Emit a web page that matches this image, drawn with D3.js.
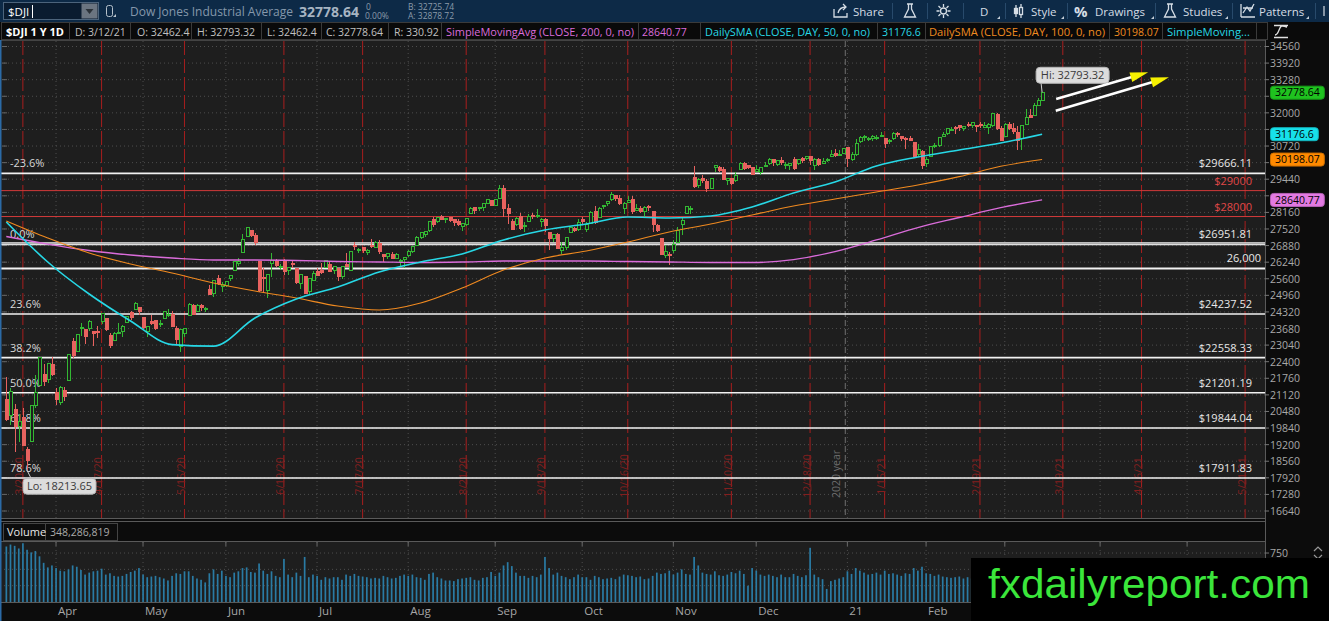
<!DOCTYPE html>
<html>
<head>
<meta charset="utf-8">
<script src="https://cdn.jsdelivr.net/npm/d3@7"></script>
<style>
html, body { margin: 0; padding: 0; background: #0c0c0c; overflow: hidden; }
svg { display: block; font-family: "Open Sans", "DejaVu Sans", sans-serif; }
</style>
</head>
<body>
<svg id="chart" width="1329" height="621"></svg>
<script>
// daily candles [open, high, low, close, volume in millions], one array per month
const mar20 = [
  [20960,21800,20100,20189,850],[20330,21390,19960,21237,880],[20560,20780,18920,19899,860],
  [19900,20400,19300,20087,820],[20250,20600,19140,19174,900],[19030,19100,18213.65,18592,800],
  [19320,20705,19300,20705,760],[20700,21900,20600,21201,780],[21470,22600,21450,22552,700],
  [21900,22300,21450,21637,600],[21700,22350,21580,22327,530],[22300,22600,21850,21917,560]];
const apr20 = [
  [21230,21400,20736,20944,520],[20820,21480,20740,21413,480],[21290,21440,20870,21053,470],
  [21690,22710,21660,22680,500],[23190,23330,22560,22654,560],[22800,23480,22760,23434,540],
  [23680,23890,23400,23719,490],[23660,23660,23090,23391,420],[23690,24020,23600,23950,450],
  [23560,23560,23000,23504,470],[23550,23760,23300,23538,480],[23950,24265,23860,24242,510],
  [24050,24050,23600,23650,420],[23400,23500,22940,23019,440],[23200,23560,23200,23476,400],
  [23500,23900,23450,23515,390],[23550,23800,23370,23775,400],[23900,24150,23900,24134,430],
  [24300,24370,24000,24102,460],[24420,24700,24400,24634,480],[24500,24500,24200,24346,520]];
const may20 = [
  [24120,24120,23650,23724,420],[23550,23750,23360,23750,380],[23960,24200,23800,23883,390],
  [23980,24020,23610,23665,400],[23830,23990,23740,23876,380],[24080,24360,24060,24331,360],
  [24220,24430,24140,24222,330],[24240,24350,23760,23765,400],[23690,23770,23050,23248,440],
  [23000,23650,22790,23625,430],[23500,23700,23360,23685,470],[24200,24650,24200,24597,470],
  [24560,24620,24200,24207,400],[24350,24630,24350,24576,360],[24560,24620,24350,24474,340],
  [24460,24500,24300,24465,300],[25200,25350,24980,24995,440],[25050,25560,24900,25548,500],
  [25600,25760,25350,25401,430],[25300,25460,25100,25383,480]];
const jun20 = [
  [25340,25520,25300,25475,400],[25600,25760,25500,25743,380],[25900,26280,25900,26270,450],
  [26200,26400,26090,26282,470],[26600,27340,26600,27111,520],[27230,27580,27200,27572,530],
  [27450,27500,27200,27272,460],[27250,27350,26900,26990,450],[26280,26280,25080,25128,590],
  [25660,26000,25080,25606,480],[25150,25800,24840,25763,430],[26200,26610,25650,26290,470],
  [26250,26350,26050,26120,400],[26050,26150,25930,26080,380],[26280,26350,25760,25871,660],
  [25900,26040,25740,26025,420],[26200,26300,26000,26156,380],[26000,26000,25400,25446,450],
  [25400,25750,25200,25746,400],[25700,25700,25000,25016,690],[25100,25600,25000,25596,380],
  [25550,25900,25520,25813,420]];
const jul20 = [
  [25880,26000,25700,25735,400],[25900,26200,25800,25827,340],[26050,26330,26000,26287,380],
  [26140,26240,25880,25890,360],[25900,26080,25800,26067,380],[26000,26000,25520,25706,380],
  [25700,26090,25600,26075,340],[26150,26600,26050,26086,420],[25900,26660,25900,26643,400],
  [26900,27000,26700,26870,430],[26700,26800,26600,26735,400],[26800,26800,26600,26672,390],
  [26600,26730,26500,26681,380],[26900,27150,26800,26840,360],[26800,27050,26800,27006,370],
  [26950,27100,26550,26652,360],[26550,26550,26250,26470,400],[26470,26600,26350,26585,380],
  [26550,26620,26360,26379,360],[26400,26600,26400,26540,370],[26300,26350,26100,26314,400],
  [26350,26430,26000,26428,420]];
const aug20 = [
  [26500,26700,26450,26664,400],[26640,26840,26580,26828,420],[26900,27250,26900,27202,380],
  [27200,27400,27150,27387,370],[27300,27450,27200,27433,340],[27450,27800,27400,27791,430],
  [27900,28000,27600,27687,450],[27800,28000,27750,27977,380],[28000,28050,27850,27897,360],
  [27900,27950,27750,27931,330],[27950,28000,27800,27845,330],[27900,27900,27650,27778,320],
  [27800,27900,27650,27693,350],[27600,27750,27450,27740,360],[27700,27960,27650,27930,370],
  [28100,28350,28100,28308,380],[28350,28350,28100,28248,340],[28300,28350,28200,28332,330],
  [28350,28500,28200,28492,370],[28500,28660,28480,28654,380],[28600,28650,28400,28430,460]];
const sep20 = [
  [28440,28660,28400,28646,400],[28700,29200,28700,29101,450],[29100,29200,28000,28293,560],
  [28300,28500,27700,28133,610],[27800,27900,27500,27501,550],[27700,28000,27650,27940,450],
  [28000,28150,27500,27535,400],[27600,27800,27400,27666,400],[27800,28100,27800,27993,370],
  [28050,28150,27900,27996,400],[28000,28300,27950,28032,380],[27800,27950,27600,27902,420],
  [27900,27950,27400,27657,690],[27400,27400,26700,27148,520],[27150,27300,27000,27288,420],
  [27300,27350,26750,26763,450],[26700,27000,26550,26815,400],[26800,27200,26700,27174,380],
  [27400,27600,27350,27584,350],[27550,27600,27400,27453,380],[27500,27900,27450,27782,420]];
const oct20 = [
  [27900,28000,27700,27817,380],[27500,27800,27400,27683,380],[27750,28200,27700,28149,340],
  [28200,28400,27700,27773,400],[27950,28350,27950,28303,380],[28400,28450,28300,28426,350],
  [28500,28600,28400,28587,360],[28650,28950,28600,28838,370],[28800,28800,28600,28680,350],
  [28700,28850,28450,28514,390],[28300,28550,28100,28494,420],[28550,28800,28550,28606,410],
  [28650,28800,28100,28195,400],[28250,28500,28250,28309,380],[28300,28400,28150,28211,390],
  [28200,28400,28000,28364,350],[28400,28450,28200,28336,360],[28200,28200,27400,27685,400],
  [27650,27700,27400,27463,450],[27150,27150,26500,26520,430],[26500,26900,26400,26659,440],
  [26550,26650,26140,26502,480]];
const nov20 = [
  [26700,27100,26600,26925,420],[27000,27600,27000,27480,450],[27700,28000,27300,27848,500],
  [28100,28400,28100,28390,430],[28300,28400,28100,28323,420],[29500,29933,29100,29158,690],
  [29200,29500,29100,29421,560],[29450,29600,29300,29398,450],[29350,29450,28950,29080,430],
  [29100,29500,29100,29480,420],[29900,30000,29700,29950,470],[29900,29950,29700,29783,410],
  [29800,29900,29400,29438,400],[29400,29500,29200,29483,420],[29450,29500,29200,29263,460],
  [29400,29700,29350,29591,440],[29800,30100,29800,30046,480],[30050,30100,29800,29872,430],
  [29950,30000,29850,29910,250],[29900,29900,29600,29639,520]];
const dec20 = [
  [29750,30000,29700,29824,480],[29700,29900,29600,29884,420],[29950,30100,29900,29970,400],
  [30050,30250,30000,30218,420],[30200,30200,29950,30070,400],[30000,30200,29950,30174,380],
  [30150,30300,30000,30069,420],[29950,30100,29850,29999,380],[29950,30050,29800,30046,380],
  [30200,30300,29800,29862,430],[30050,30200,30000,30199,400],[30250,30300,30050,30155,380],
  [30250,30350,30200,30303,410],[30300,30300,30000,30179,830],[29950,30250,29800,30216,420],
  [30200,30250,29950,30016,380],[30050,30250,30050,30130,350],[30150,30250,30100,30200,200],
  [30300,30550,30300,30404,320],[30450,30600,30300,30336,340],[30400,30550,30350,30410,360],
  [30450,30650,30400,30606,380]];
const jan21 = [
  [30650,30700,29900,30224,470],[30200,30500,30150,30392,430],[30400,31000,30350,30829,520],
  [30900,31100,30850,31041,480],[31050,31150,30900,31098,450],[31000,31050,30900,31009,420],
  [31000,31150,30900,31069,430],[31050,31150,30950,31060,450],[31100,31250,31050,31113,420],
  [31000,31000,30650,30814,480],[30900,31000,30800,30931,430],[31000,31250,30950,31188,440],
  [31200,31250,31050,31176,420],[31100,31100,30900,30997,400],[31000,31050,30600,30960,440],
  [31000,31100,30900,30937,430],[30850,30850,30250,30303,520],[30400,30800,30350,30603,480],
  [30500,30550,29850,29983,540]];
const feb21 = [
  [30050,30300,29900,30212,440],[30300,30700,30300,30687,430],[30700,30850,30650,30724,400],
  [30750,31060,30700,31056,420],[31100,31250,31050,31148,390],[31200,31400,31150,31386,380],
  [31350,31450,31300,31376,370],[31450,31500,31200,31438,380],[31500,31550,31300,31431,390],
  [31400,31500,31300,31458,360],[31550,31650,31450,31523,380],[31500,31650,31400,31613,360],
  [31500,31550,31250,31493,400],[31550,31650,31400,31494,390],[31450,31650,31400,31522,430],
  [31450,31600,31200,31537,420],[31500,32000,31450,31962,470],[31950,32000,31350,31402,520],
  [31400,31500,30900,30932,500]];
const mar21 = [
  [31100,31600,31100,31536,450],[31550,31650,31350,31392,400],[31400,31600,31200,31270,450],
  [31250,31500,30550,30924,500],[31000,31550,30550,31496,520],[31550,32150,31550,31802,460],
  [31900,32150,31800,31833,430],[31900,32390,31900,32297,420],[32300,32570,32300,32486,410],
  [32462.4,32793.32,32462.4,32778.64,348.3]];

// moving averages, one value every 10 bars
const smaStep = 10;
const sma50  = [27789,26246,25011,23970,23060,23000,24086,24819,25282,25860,26246,26555,27095,
                27481,27712,27982,27944,28021,28368,28908,29332,29950,30297,30567,30837,31177];
const sma100 = [27828,27172,26593,26169,25822,25436,25127,24857,24548,24394,24664,25243,25937,
                26400,26670,27018,27403,27712,28059,28406,28677,28947,29217,29540,29937,30198];
const sma200 = [27230,26940,26690,26516,26400,26323,26323,26304,26265,26246,26227,26246,26285,
                26285,26285,26265,26246,26227,26227,26340,26650,27095,27577,27963,28341,28641];

// price levels drawn on the chart
const fibPrices = [29666.11, 26951.81, 24237.52, 22558.33, 21201.19, 19844.04, 17911.83];
const fibPct    = ["-23.6%", "0.0%", "23.6%", "38.2%", "50.0%", "61.8%", "78.6%"];
const redPrices = [29000, 28000];
const plainPrice = 26000;

// monthly expiration dates (red lines)
const opexDates = ["2020-03-20","2020-04-17","2020-05-15","2020-06-19","2020-07-17","2020-08-21",
  "2020-09-18","2020-10-16","2020-11-20","2020-12-18","2021-01-15","2021-02-19","2021-03-19",
  "2021-04-16","2021-05-21"];
const holidays = ["2020-04-10","2020-05-25","2020-07-03","2020-09-07","2020-11-26","2020-12-25",
  "2021-01-01","2021-01-18","2021-02-15","2021-04-02","2021-05-31"];

const lastValues = [
  {v: 32778.64, bg: "#1fc21f"},
  {v: 31176.6,  bg: "#17e0ea"},
  {v: 30198.07, bg: "#ff8a00"},
  {v: 28640.77, bg: "#e27ae2"}];

// arrows: [bar index, price] start and tip
const arrows = [
  {from: [253.4, 32535], to: [275.6, 33565]},
  {from: [253.3, 32083], to: [280.6, 33372]}];

const legendTexts = ["$DJI 1 Y 1D","D: 3/12/21","O: 32462.4","H: 32793.32","L: 32462.4","C: 32778.64",
  "R: 330.92","SimpleMovingAvg (CLOSE, 200, 0, no)","28640.77","DailySMA (CLOSE, DAY, 50, 0, no)",
  "31176.6","DailySMA (CLOSE, DAY, 100, 0, no)","30198.07","SimpleMoving..."];

const W = 1329, H = 621, plotR = 1265;
const wmX = 971, wmY = 558; // watermark box corner
const upCol = "#33b833", dnCol = "#e8625f", bgCol = "#1e1e1e";
const cyan = "#27d8e6", orange = "#f08a20", magenta = "#da6cda";
const fmt = d3.utcFormat("%Y-%m-%d");

// trading days from 3/16/20
const days = [];
for (let d = new Date(Date.UTC(2020, 2, 16)); days.length < 310; d = new Date(d.getTime() + 86400000)) {
  const wd = d.getUTCDay();
  if (wd === 0 || wd === 6 || holidays.includes(fmt(d))) continue;
  days.push(d);
}
const dayIndex = s => days.findIndex(d => fmt(d) === s);

const bars = [mar20, apr20, may20, jun20, jul20, aug20, sep20, oct20, nov20, dec20, jan21, feb21, mar21]
  .flat().map((r, i) => ({i: i, o: r[0], h: r[1], l: r[2], c: r[3], v: r[4]}));

const x = d3.scaleLinear().domain([-1.52, 303.8]).range([0, plotR]);
const y = d3.scaleLinear().domain([16640, 34560]).range([511, 46.5]);
const yv = d3.scaleLinear().domain([0, 873]).range([602, 545]);

const svg = d3.select("#chart");
svg.append("rect").attr("width", W).attr("height", H).attr("fill", "#0c0c0c");

// panes
svg.append("rect").attr("x", 0).attr("y", 40).attr("width", plotR).attr("height", 478).attr("fill", bgCol);
svg.append("rect").attr("x", 0).attr("y", 541).attr("width", plotR).attr("height", 61).attr("fill", bgCol);

const grid = svg.append("g").attr("stroke", "#4d4d4d").attr("stroke-dasharray", "1,3");
const yTicks = d3.range(16640, 34561, 640);
grid.selectAll("line.h").data(yTicks).join("line")
  .attr("x1", 0).attr("x2", plotR).attr("y1", d => y(d)).attr("y2", d => y(d));
grid.selectAll("line.hv").data([250, 500, 750]).join("line")
  .attr("x1", 0).attr("x2", plotR).attr("y1", d => yv(d)).attr("y2", d => yv(d));

const monthStarts = days.map((d, i) => ({d: d, i: i}))
  .filter(m => m.i > 0 && m.i < 304 && m.d.getUTCMonth() !== days[m.i - 1].getUTCMonth());
grid.selectAll("line.vm").data(monthStarts).join("line")
  .attr("x1", m => x(m.i)).attr("x2", m => x(m.i)).attr("y1", 41).attr("y2", 518);
grid.selectAll("line.vv").data(monthStarts).join("line")
  .attr("x1", m => x(m.i)).attr("x2", m => x(m.i)).attr("y1", 542).attr("y2", 602);
svg.append("g").attr("stroke", "#6a6a6a").selectAll("line").data(monthStarts).join("line")
  .attr("x1", m => x(m.i)).attr("x2", m => x(m.i)).attr("y1", 541).attr("y2", 546);
svg.append("g").attr("stroke", "#666").selectAll("line").data(yTicks).join("line")
  .attr("x1", 2).attr("x2", 7).attr("y1", d => y(d)).attr("y2", d => y(d));

// expiration lines
const opex = opexDates.map(s => ({s: s, i: dayIndex(s)}));
svg.append("g").attr("stroke", "#a81e1e").attr("stroke-dasharray", "14,4")
  .selectAll("line").data(opex).join("line")
  .attr("x1", d => x(d.i)).attr("x2", d => x(d.i)).attr("y1", 41).attr("y2", 518);
const dateLbl = d3.utcFormat("%-m/%-d/%y");
svg.append("g").selectAll("text").data(opex).join("text")
  .attr("transform", d => `translate(${x(d.i) + 0.5},476) rotate(-90)`)
  .attr("text-anchor", "middle").attr("font-size", 10.5).attr("fill", "#821f1f")
  .text(d => dateLbl(new Date(d.s + "T00:00:00Z")));

// year line
const yearIdx = monthStarts.find(m => m.d.getUTCMonth() === 0).i;
svg.append("line").attr("x1", x(yearIdx - 0.5)).attr("x2", x(yearIdx - 0.5)).attr("y1", 41).attr("y2", 518)
  .attr("stroke", "#707070").attr("stroke-dasharray", "6,3");
svg.append("text").attr("transform", `translate(${x(yearIdx - 0.5) - 5},474) rotate(-90)`)
  .attr("text-anchor", "middle").attr("font-size", 10.5).attr("fill", "#6c6c6c").text("2020 year");

// horizontal levels
const lv = svg.append("g");
lv.selectAll("line.fib").data(fibPrices).join("line")
  .attr("x1", 0).attr("x2", plotR).attr("y1", d => y(d)).attr("y2", d => y(d))
  .attr("stroke", "#f2f2f2").attr("stroke-width", (d, k) => k === 1 ? 3 : 1.6);
lv.append("line").attr("x1", 0).attr("x2", plotR).attr("y1", y(fibPrices[1])).attr("y2", y(fibPrices[1]))
  .attr("stroke", "#9a9a9a").attr("stroke-width", 1);
lv.append("line").attr("x1", 0).attr("x2", plotR).attr("y1", y(plainPrice)).attr("y2", y(plainPrice))
  .attr("stroke", "#f2f2f2").attr("stroke-width", 2);
lv.selectAll("line.red").data(redPrices).join("line")
  .attr("x1", 0).attr("x2", plotR).attr("y1", d => y(d)).attr("y2", d => y(d))
  .attr("stroke", "#d23a3a").attr("stroke-width", 1);

const lt = svg.append("g").attr("font-size", 11);
lt.selectAll("text.pct").data(fibPrices).join("text")
  .attr("x", 10).attr("y", d => y(d) - 6).attr("fill", "#d8d8d8").text((d, k) => fibPct[k]);
lt.selectAll("text.fv").data(fibPrices).join("text")
  .attr("x", 1252).attr("y", d => y(d) - 6).attr("text-anchor", "end").attr("fill", "#e8e8e8")
  .text(d => "$" + d3.format(".2f")(d));
lt.selectAll("text.rv").data(redPrices).join("text")
  .attr("x", 1252).attr("y", d => y(d) - 6).attr("text-anchor", "end").attr("fill", "#e04848")
  .text(d => "$" + d);
lt.append("text").attr("x", 1261).attr("y", y(plainPrice) - 6).attr("text-anchor", "end")
  .attr("fill", "#e8e8e8").text(d3.format(",")(plainPrice));

// candles
const cg = svg.append("g").attr("shape-rendering", "crispEdges");
cg.selectAll("line").data(bars).join("line")
  .attr("x1", d => Math.round(x(d.i)) + 0.5).attr("x2", d => Math.round(x(d.i)) + 0.5)
  .attr("y1", d => y(d.h)).attr("y2", d => y(d.l))
  .attr("stroke", d => d.c >= d.o ? upCol : dnCol);
cg.selectAll("rect").data(bars).join("rect")
  .attr("x", d => Math.round(x(d.i)) - 1)
  .attr("y", d => y(Math.max(d.o, d.c)))
  .attr("width", 3)
  .attr("height", d => Math.max(1, Math.abs(y(d.o) - y(d.c))))
  .attr("fill", d => d.c >= d.o ? bgCol : dnCol)
  .attr("stroke", d => d.c >= d.o ? upCol : dnCol).attr("stroke-width", 1);

// moving averages
const smaLine = d3.line().x((d, k) => x(k * smaStep)).y(d => y(d)).curve(d3.curveMonotoneX);
svg.append("path").attr("d", smaLine(sma200)).attr("fill", "none").attr("stroke", magenta).attr("stroke-width", 1.3);
svg.append("path").attr("d", smaLine(sma100)).attr("fill", "none").attr("stroke", orange).attr("stroke-width", 1.1);
svg.append("path").attr("d", smaLine(sma50)).attr("fill", "none").attr("stroke", cyan).attr("stroke-width", 1.6);

// hi / lo bubbles
const hiBar = bars.reduce((a, b) => b.h > a.h ? b : a);
const loBar = bars.reduce((a, b) => b.l < a.l ? b : a);
function bubble(bx, by, dx, dy, label, px, py) {
  const g = svg.append("g");
  g.append("line").attr("x1", bx).attr("y1", by).attr("x2", px).attr("y2", py).attr("stroke", "#cfcfcf");
  g.append("rect").attr("x", bx + dx).attr("y", by + dy).attr("width", 73).attr("height", 16).attr("rx", 4)
    .attr("fill", "#dcdcdc").attr("stroke", "#b5b5b5");
  g.append("text").attr("x", bx + dx + 36.5).attr("y", by + dy + 12).attr("text-anchor", "middle")
    .attr("font-size", 11).attr("fill", "#3a3a3a").text(label);
}
bubble(x(hiBar.i), y(hiBar.h), -6, -25, "Hi: " + d3.format(".2f")(hiBar.h), x(hiBar.i) - 1, y(hiBar.h) - 9);
bubble(x(loBar.i), y(loBar.l), -4, 8, "Lo: " + d3.format(".2f")(loBar.l), x(loBar.i) + 4, y(loBar.l) + 8);

// arrows
arrows.forEach(a => {
  const x0 = x(a.from[0]), y0 = y(a.from[1]), x1 = x(a.to[0]), y1 = y(a.to[1]);
  const len = Math.hypot(x1 - x0, y1 - y0), ux = (x1 - x0) / len, uy = (y1 - y0) / len;
  const bxp = x1 - ux * 18, byp = y1 - uy * 18;
  svg.append("line").attr("x1", x0).attr("y1", y0).attr("x2", bxp + ux * 2).attr("y2", byp + uy * 2)
    .attr("stroke", "#ffffff").attr("stroke-width", 2.6);
  svg.append("path").attr("fill", "#f5f000")
    .attr("d", `M${x1},${y1}L${bxp - uy * 5},${byp + ux * 5}L${bxp + uy * 5},${byp - ux * 5}Z`);
});

// volume
svg.append("g").attr("fill", "#2a7ba4").selectAll("rect").data(bars).join("rect")
  .attr("x", d => x(d.i) - 0.8).attr("width", 1.7)
  .attr("y", d => yv(d.v)).attr("height", d => yv(0) - yv(d.v));

// pane borders
svg.append("line").attr("x1", 0).attr("x2", plotR).attr("y1", 40.5).attr("y2", 40.5).attr("stroke", "#444");
svg.append("line").attr("x1", 0).attr("x2", plotR).attr("y1", 518.5).attr("y2", 518.5).attr("stroke", "#5a5a5a");
svg.append("line").attr("x1", 0).attr("x2", plotR).attr("y1", 521.5).attr("y2", 521.5).attr("stroke", "#5a5a5a");
svg.append("line").attr("x1", 0).attr("x2", plotR).attr("y1", 541.5).attr("y2", 541.5).attr("stroke", "#5a5a5a");
svg.append("line").attr("x1", 0).attr("x2", plotR).attr("y1", 602.5).attr("y2", 602.5).attr("stroke", "#5a5a5a");
svg.append("line").attr("x1", plotR + 0.5).attr("x2", plotR + 0.5).attr("y1", 40).attr("y2", 603).attr("stroke", "#5a5a5a");

// volume label row
svg.append("rect").attr("x", 3.5).attr("y", 523.5).attr("width", 42).attr("height", 17).attr("fill", "none").attr("stroke", "#444");
svg.append("rect").attr("x", 45.5).attr("y", 523.5).attr("width", 72).attr("height", 17).attr("fill", "none").attr("stroke", "#444");
svg.append("text").attr("x", 7).attr("y", 536).attr("font-size", 11).attr("fill", "#e8e8e8").text("Volume");
svg.append("text").attr("x", 50).attr("y", 536).attr("font-size", 10.5).attr("fill", "#aaaaaa")
  .text(d3.format(",")(348286819));

// right axis (labels hidden behind the last-value tags are left out)
const axisLabels = yTicks.filter(t => !lastValues.some(l => Math.abs(y(t) - y(l.v)) < 9));
const ax = svg.append("g").attr("font-size", 10.5).attr("fill", "#a8a8a8");
ax.selectAll("line").data(yTicks).join("line")
  .attr("x1", plotR).attr("x2", plotR + 4).attr("y1", d => y(d)).attr("y2", d => y(d)).attr("stroke", "#777");
ax.selectAll("text").data(axisLabels).join("text")
  .attr("x", 1270).attr("y", d => y(d)).attr("dy", "0.38em").text(d => d);
ax.append("line").attr("x1", plotR).attr("x2", plotR + 4).attr("y1", yv(750)).attr("y2", yv(750)).attr("stroke", "#777");
ax.append("text").attr("x", 1270).attr("y", yv(750)).attr("dy", "0.38em").text(750);
svg.append("path").attr("d", "M1314,551l4,-4l4,4M1314,555l4,4l4,-4").attr("fill", "none").attr("stroke", "#999").attr("stroke-width", 1.2);

lastValues.forEach(t => {
  const g = svg.append("g");
  const txt = g.append("text").attr("x", 1275).attr("y", y(t.v)).attr("dy", "0.35em")
    .attr("font-size", 10.5).attr("fill", "#000").text(t.v);
  const w = txt.node().getComputedTextLength();
  g.insert("rect", "text").attr("x", 1270.5).attr("y", y(t.v) - 6.5).attr("width", w + 9).attr("height", 13)
    .attr("rx", 3).attr("fill", t.bg).attr("stroke", d3.color(t.bg).darker(0.6));
});

// month labels (those under the watermark box are not visible)
svg.append("g").attr("font-size", 11.5).attr("fill", "#a6a6a6")
  .selectAll("text").data(monthStarts.filter(m => x(m.i) + 24 < wmX)).join("text")
  .attr("x", m => x(m.i) + 2).attr("y", 615)
  .text(m => m.d.getUTCMonth() === 0 ? d3.utcFormat("%y")(m.d) : d3.utcFormat("%b")(m.d));

// left frame
svg.append("rect").attr("x", 0).attr("y", 40).attr("width", 1.5).attr("height", 581).attr("fill", "#2b6aa6");

// ---- top tool bar ----
const tb = svg.append("g");
tb.append("rect").attr("width", W).attr("height", 22).attr("fill", "#0d2a47");
tb.append("rect").attr("x", 3.5).attr("y", 2.5).attr("width", 95).attr("height", 17).attr("fill", "#0a1c30").attr("stroke", "#4c647c");
tb.append("text").attr("x", 8).attr("y", 15.5).attr("font-size", 11.5).attr("fill", "#ffffff").text("$DJI");
tb.append("line").attr("x1", 32.5).attr("x2", 32.5).attr("y1", 5).attr("y2", 18).attr("stroke", "#fff");
tb.append("rect").attr("x", 81.5).attr("y", 3.5).attr("width", 16).attr("height", 15).attr("fill", "#6b7581");
tb.append("path").attr("d", "M85.5,9h8l-4,5z").attr("fill", "#2c333a");
tb.append("rect").attr("x", 106.5).attr("y", 5.5).attr("width", 6).attr("height", 11).attr("rx", 2).attr("fill", "none").attr("stroke", "#b7c2cc");
tb.append("path").attr("d", "M113,17l3,0l0,-3z").attr("fill", "#b7c2cc");
tb.append("text").attr("x", 130).attr("y", 15.5).attr("font-size", 12).attr("fill", "#8598ab").text("Dow Jones Industrial Average");
tb.append("text").attr("x", 299).attr("y", 16.5).attr("font-size", 14).attr("font-weight", "bold").attr("fill", "#a6b4c2").text("32778.64");
tb.append("text").attr("x", 366).attr("y", 9.5).attr("font-size", 8.5).attr("fill", "#8b9bab").text("0");
tb.append("text").attr("x", 365).attr("y", 19).attr("font-size", 8.5).attr("fill", "#8b9bab").text("0.00%");
tb.append("text").attr("x", 408).attr("y", 9.5).attr("font-size", 8.5).attr("fill", "#8b9bab").text("B: 32725.74");
tb.append("text").attr("x", 408).attr("y", 19).attr("font-size", 8.5).attr("fill", "#8b9bab").text("A: 32878.72");

const tbItems = [
  {t: "Share", x: 853}, {t: "D", x: 980}, {t: "Style", x: 1031},
  {t: "Drawings", x: 1095}, {t: "Studies", x: 1183}, {t: "Patterns", x: 1259}];
tb.selectAll("text.it").data(tbItems).join("text")
  .attr("x", d => d.x).attr("y", 15.5).attr("font-size", 11.5).attr("fill", "#d5dde5").text(d => d.t);
const tbSeps = [892.5, 927.5, 963.5, 1005.5, 1067.5, 1155.5, 1232.5, 1315.5];
tb.selectAll("line.sep").data(tbSeps).join("line")
  .attr("x1", d => d).attr("x2", d => d).attr("y1", 3).attr("y2", 19).attr("stroke", "#284a6b");
const tris = [997, 1061, 1151, 1225, 1306];
tb.selectAll("path.tri").data(tris).join("path")
  .attr("d", d => `M${d},19h3v-3z`).attr("fill", "#c5ced8");
const ic = tb.append("g").attr("fill", "none").attr("stroke", "#d5dde5").attr("stroke-width", 1.3);
ic.append("path").attr("d", "M834,9v8h13v-4M838,13c1,-4 4,-6 8,-6M843,4l3,3l-3,3");
ic.append("path").attr("d", "M907,4h6M908.5,4v5l-4,8h11l-4,-8v-5");
ic.append("circle").attr("cx", 943.5).attr("cy", 11).attr("r", 3);
ic.append("path").attr("d", "M943.5,4v3M943.5,15v3M936.5,11h3M947.5,11h3M938.5,6l2,2M946.5,14l2,2M938.5,16l2,-2M946.5,8l2,-2");
ic.append("path").attr("d", "M1016,5v12M1021,4v14");
ic.append("rect").attr("x", 1014.5).attr("y", 8.5).attr("width", 3).attr("height", 5).attr("fill", "#d5dde5");
ic.append("rect").attr("x", 1019.5).attr("y", 7.5).attr("width", 3).attr("height", 7).attr("fill", "#0d2a47");
ic.append("path").attr("d", "M1167,4h6M1168.5,4v5l-4,8h11l-4,-8v-5");
ic.append("path").attr("d", "M1241,17h14M1241,4v13M1243,13l4,-6l3,4l4,-7M1243,8h10");
tb.append("text").attr("x", 1074).attr("y", 16.5).attr("font-size", 15).attr("font-weight", "bold").attr("fill", "#d5dde5").text("%");
tb.append("path").attr("d", "M1324,6v10").attr("stroke", "#c5ced8").attr("stroke-width", 1.3);

// ---- legend row ----
const lg = svg.append("g");
lg.append("rect").attr("x", 0).attr("y", 22).attr("width", W).attr("height", 18).attr("fill", "#0a0a0a");
lg.append("rect").attr("x", 1.5).attr("y", 22.5).attr("width", 1266).attr("height", 17).attr("fill", "none").attr("stroke", "#3a3a3a");
const legendX = [6, 75, 137, 197, 267, 326, 394, 446, 642, 705, 882, 929, 1114, 1167];
const legendFit = {7: 188, 9: 165, 11: 176, 13: 83};
const legendCol = k => k >= 13 ? cyan : k >= 11 ? orange : k >= 9 ? cyan : k >= 7 ? magenta : k === 0 ? "#ffffff" : "#c0c0c0";
const legendCol2 = k => k === 12 ? orange : k === 10 ? cyan : legendCol(k);
lg.selectAll("text").data(legendTexts).join("text")
  .attr("x", (d, k) => legendX[k]).attr("y", 35.5)
  .attr("font-size", (d, k) => k === 0 ? 11 : 10.5)
  .attr("font-weight", (d, k) => k === 0 ? "bold" : "normal")
  .attr("fill", (d, k) => legendCol2(k))
  .attr("textLength", (d, k) => legendFit[k] || null)
  .attr("lengthAdjust", "spacingAndGlyphs")
  .text(d => d);
const legendSeps = [69.5, 130.5, 191.5, 261.5, 321.5, 388.5, 441.5, 638.5, 700.5, 877.5, 925.5, 1109.5, 1162.5, 1256.5];
lg.selectAll("line").data(legendSeps).join("line")
  .attr("x1", d => d).attr("x2", d => d).attr("y1", 22.5).attr("y2", 39.5).attr("stroke", "#3a3a3a");
lg.append("path").attr("d", "M1274,25.5h14M1274,37.5h14M1275,35c4,0 4,-9 7,-9c2,0 3,1 5,1")
  .attr("fill", "none").attr("stroke", "#e0e0e0").attr("stroke-width", 1.3);

// watermark
svg.append("rect").attr("x", wmX).attr("y", wmY).attr("width", W - wmX).attr("height", H - wmY).attr("fill", "#000");
svg.append("text").attr("x", 988).attr("y", 598).attr("font-family", "'Liberation Sans', Arial, sans-serif")
  .attr("font-size", 41).attr("fill", "#3be63b").attr("textLength", 322).attr("lengthAdjust", "spacingAndGlyphs")
  .text("fxdailyreport.com");
</script>
</body>
</html>
